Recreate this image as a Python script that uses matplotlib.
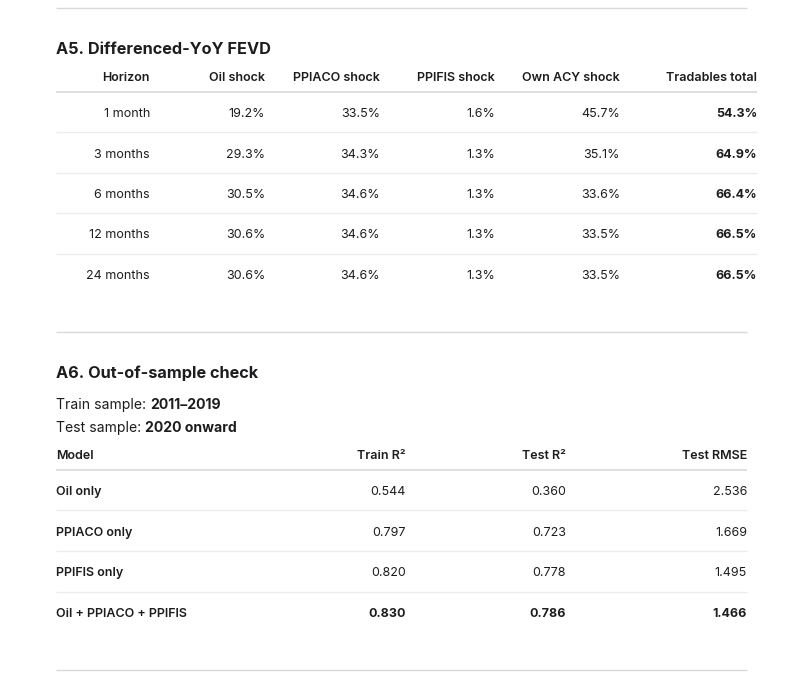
import matplotlib

matplotlib.use("Agg")
import matplotlib.pyplot as plt

# A5 table data
HORIZONS = ["1 month", "3 months", "6 months", "12 months", "24 months"]
OIL_SHOCK = [19.2, 29.3, 30.5, 30.6, 30.6]
PPIACO_SHOCK = [33.5, 34.3, 34.6, 34.6, 34.6]
PPIFIS_SHOCK = [1.6, 1.3, 1.3, 1.3, 1.3]
OWN_ACY_SHOCK = [45.7, 35.1, 33.6, 33.5, 33.5]
TRADABLES_TOTAL = [54.3, 64.9, 66.4, 66.5, 66.5]
FEVD_HEADERS = ["Horizon", "Oil shock", "PPIACO shock", "PPIFIS shock", "Own ACY shock", "Tradables total"]

# A6 table data
MODELS = ["Oil only", "PPIACO only", "PPIFIS only", "Oil + PPIACO + PPIFIS"]
TRAIN_R2 = [0.544, 0.797, 0.820, 0.830]
TEST_R2 = [0.360, 0.723, 0.778, 0.786]
TEST_RMSE = [2.536, 1.669, 1.495, 1.466]
OOS_HEADERS = ["Model", "Train R²", "Test R²", "Test RMSE"]
TRAIN_SAMPLE = "2011–2019"
TEST_SAMPLE = "2020 onward"

W, H = 811, 675
TEXT = "#1d1d1f"
RULE = "#d9d9d9"
ROW_RULE = "#ececec"
PX = 72 / 100  # points per pixel at dpi 100
DY = 2  # baseline nudge

plt.rcParams["font.family"] = ["Inter", "DejaVu Sans"]

fig = plt.figure(figsize=(W / 100, H / 100), dpi=100)
ax = fig.add_axes([0, 0, 1, 1])
ax.set_xlim(0, W)
ax.set_ylim(H, 0)
ax.axis("off")


def hline(y, x0, x1, color, lw=1.0):
    ax.plot([x0, x1], [y, y], color=color, linewidth=lw * PX * 1.4, solid_capstyle="butt")


def txt(x, y, s, size, weight="normal", ha="left", color=TEXT):
    return ax.text(x, y + DY, s, fontsize=size * PX, fontweight=weight, ha=ha, va="center", color=color)


# ---- A5 ----
hline(8, 56, 747, RULE)
txt(56, 47, "A5. Differenced-YoY FEVD", 16.3, "bold")

fevd_right = [150, 265, 380, 495, 620, 757]
for x, h in zip(fevd_right, FEVD_HEADERS):
    txt(x, 76, h, 12.5, "semibold", ha="right")
hline(92, 56, 757, RULE, 1.2)

row_y0, row_step = 112, 40.5
for i, horizon in enumerate(HORIZONS):
    y = row_y0 + i * row_step
    cells = [
        horizon,
        f"{OIL_SHOCK[i]:.1f}%",
        f"{PPIACO_SHOCK[i]:.1f}%",
        f"{PPIFIS_SHOCK[i]:.1f}%",
        f"{OWN_ACY_SHOCK[i]:.1f}%",
        f"{TRADABLES_TOTAL[i]:.1f}%",
    ]
    for j, (x, c) in enumerate(zip(fevd_right, cells)):
        txt(x, y, c, 12.5, "bold" if j == len(cells) - 1 else "normal", ha="right")
    if i < len(HORIZONS) - 1:
        hline(y + row_step / 2, 56, 757, ROW_RULE)

# ---- A6 ----
hline(332, 56, 747, RULE)
txt(56, 371, "A6. Out-of-sample check", 16.3, "bold")

renderer = fig.canvas.get_renderer()
for y, label, value in [(403, "Train sample: ", TRAIN_SAMPLE), (426, "Test sample: ", TEST_SAMPLE)]:
    t = txt(56, y, label, 14)
    bb = t.get_window_extent(renderer=renderer)
    x_end = ax.transData.inverted().transform((bb.x1, bb.y0))[0]
    txt(x_end, y, value, 14, "bold")

oos_right = [None, 406, 566, 747]
txt(56, 454, OOS_HEADERS[0], 12.5, "semibold")
for x, h in zip(oos_right[1:], OOS_HEADERS[1:]):
    txt(x, 454, h, 12.5, "semibold", ha="right")
hline(470, 56, 747, RULE, 1.2)

row_y0, row_step = 490, 40.7
for i, model in enumerate(MODELS):
    y = row_y0 + i * row_step
    last = i == len(MODELS) - 1
    txt(56, y, model, 12.5, "semibold")
    vals = [f"{TRAIN_R2[i]:.3f}", f"{TEST_R2[i]:.3f}", f"{TEST_RMSE[i]:.3f}"]
    for x, v in zip(oos_right[1:], vals):
        txt(x, y, v, 12.5, "bold" if last else "normal", ha="right")
    if not last:
        hline(y + row_step / 2, 56, 747, ROW_RULE)

hline(670, 56, 747, RULE)

fig.savefig("out.png", dpi=100, facecolor="white")
